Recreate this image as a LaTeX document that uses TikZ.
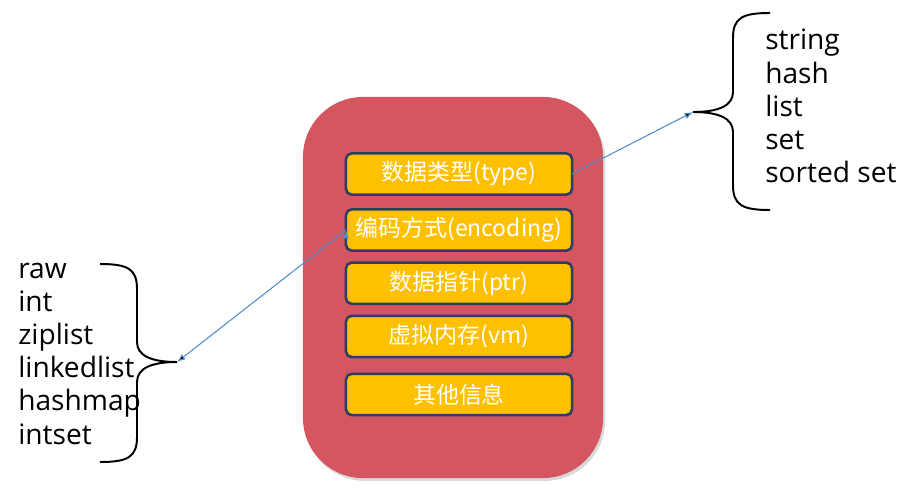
\documentclass[tikz,border=0pt]{standalone}
\usepackage{fontspec}
\setmainfont{Open Sans}
\newfontfamily\cjk{Noto Sans CJK SC}
\usetikzlibrary{positioning,arrows.meta,shadows}
\definecolor{cardred}{RGB}{211,86,97}
\definecolor{fieldyellow}{RGB}{255,192,0}
\definecolor{fieldborder}{RGB}{40,62,100}
\definecolor{linkblue}{RGB}{80,140,205}

\begin{document}
\begin{tikzpicture}[x=0.025cm, y=-0.025cm,
		card/.style={fill=cardred, rounded corners=1.5cm, minimum width=7.5cm, minimum height=9.525cm,
			drop shadow={shadow xshift=1.5pt, shadow yshift=-2pt, opacity=0.3}},
		field/.style={draw=fieldborder, line width=1.8pt, fill=fieldyellow, rounded corners=4pt,
			minimum width=5.65cm, minimum height=1.03cm, inner sep=0pt, outer sep=0pt,
			text=white, font=\cjk\fontsize{16.3}{18}\selectfont},
		wordlist/.style={align=left, inner sep=0pt, font=\fontsize{20}{23.6}\selectfont},
		brace/.style={draw=black, line width=1.4pt},
		link/.style={draw=linkblue, line width=0.75pt, -{Latex[length=6pt,width=4.5pt]}}]
	\useasboundingbox (0,0) rectangle (912,488);

	\node[card] (obj) at (453,287.5) {};

	\node[field] (type) at (459,174) {数据类型(type)};
	\node[field] (enc)[below=0.37cm of type] {编码方式(encoding)};
	\node[field] (ptr)[below=0.3cm of enc] {数据指针(ptr)};
	\node[field] (vm)[below=0.3cm of ptr] {虚拟内存(vm)};
	\node[field] (info)[below=0.42cm of vm] {其他信息};

	% right brace and type names
	\coordinate (kindtip) at (693,112);
	\draw[brace] (770,13) .. controls (742,13) and (733,18) .. (733,38) -- (733,92)
		.. controls (733,106) and (718,112) .. (kindtip)
		.. controls (718,112) and (733,118) .. (733,132) -- (733,185)
		.. controls (733,205) and (742,210) .. (770,210);
	\node[wordlist, anchor=west] (kinds) at (765,106) {string\\hash\\list\\set\\sorted set};

	% left brace and encodings
	\coordinate (enctip) at (177,362);
	\draw[brace] (100,264) .. controls (128,264) and (137,269) .. (137,289) -- (137,342)
		.. controls (137,356) and (152,362) .. (enctip)
		.. controls (152,362) and (137,368) .. (137,382) -- (137,437)
		.. controls (137,457) and (128,462) .. (100,462);
	\node[wordlist, anchor=west] (encodings) at (18,353.5) {raw\\int\\ziplist\\linkedlist\\hashmap\\intset};

	\path[link]
		(type.east) edge (kindtip)
		(enc.west) edge (enctip)
	;
\end{tikzpicture}
\end{document}
